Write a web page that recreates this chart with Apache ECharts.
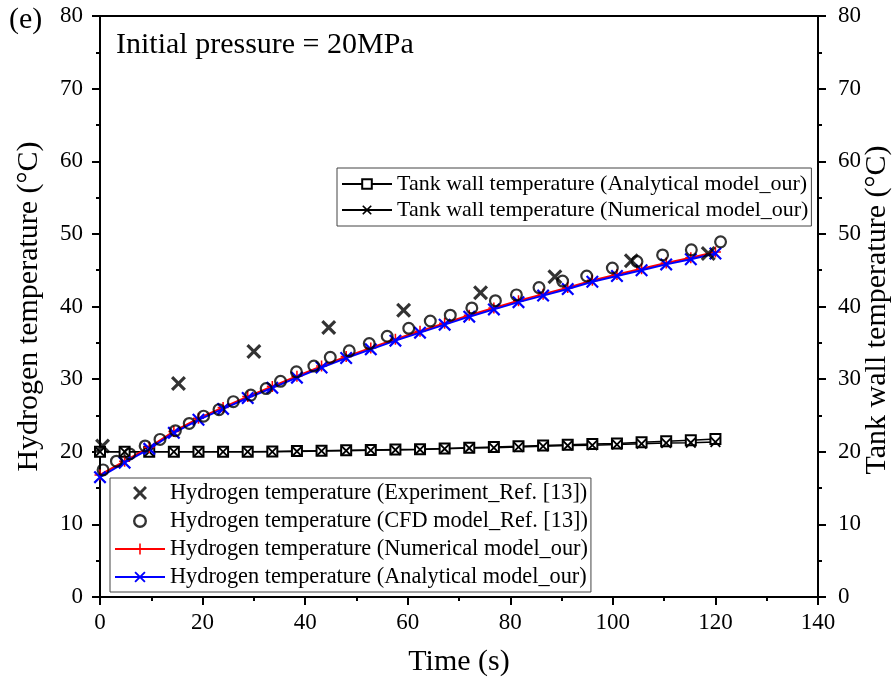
<!DOCTYPE html>
<html><head><meta charset="utf-8">
<script src="https://cdn.jsdelivr.net/npm/echarts@6/dist/echarts.min.js"></script>
<style>html,body{margin:0;padding:0;background:#fff}#c{width:896px;height:682px}</style>
</head><body><div id="c"></div>
<script>
// ---- data ----
const expTime = [0.5, 15.3, 30.0, 44.6, 59.2, 74.2, 88.7, 103.6, 118.6];
const expTemp = [20.8, 29.4, 33.8, 37.1, 39.5, 41.9, 44.1, 46.3, 47.3];
const cfdTime = [0.6, 3.2, 5.8, 8.8, 11.7, 14.7, 17.4, 20.2, 23.2, 26.0, 29.4, 32.4, 35.2, 38.3, 41.7, 44.9, 48.6, 52.5, 56.0, 60.2, 64.4, 68.3, 72.5, 77.1, 81.2, 85.6, 90.2, 94.9, 99.9, 104.7, 109.7, 115.3, 121.0];
const cfdTemp = [17.5, 18.7, 19.7, 20.8, 21.7, 22.9, 23.9, 24.9, 25.8, 26.9, 27.8, 28.7, 29.7, 31.0, 31.8, 33.0, 33.9, 34.9, 35.9, 37.0, 38.0, 38.8, 39.8, 40.8, 41.6, 42.6, 43.5, 44.2, 45.3, 46.2, 47.1, 47.8, 48.9];
const modelTime = [0, 4.8, 9.6, 14.4, 19.2, 24, 28.8, 33.6, 38.4, 43.2, 48, 52.8, 57.6, 62.4, 67.2, 72, 76.8, 81.6, 86.4, 91.2, 96, 100.8, 105.6, 110.4, 115.2, 120];
const h2Numerical = [16.8, 18.7, 20.6, 22.8, 24.6, 26.1, 27.6, 29.0, 30.4, 31.8, 33.1, 34.3, 35.5, 36.6, 37.7, 38.8, 39.8, 40.8, 41.7, 42.6, 43.6, 44.4, 45.2, 46.0, 46.7, 47.5];
const h2Analytical = [16.5, 18.5, 20.4, 22.6, 24.4, 25.9, 27.4, 28.8, 30.2, 31.6, 32.9, 34.1, 35.3, 36.4, 37.5, 38.6, 39.6, 40.6, 41.5, 42.4, 43.4, 44.2, 45.0, 45.8, 46.5, 47.3];
const wallAnalytical = [20.0, 20.0, 20.0, 20.0, 20.0, 20.0, 20.0, 20.05, 20.1, 20.15, 20.2, 20.25, 20.3, 20.35, 20.45, 20.55, 20.65, 20.75, 20.85, 20.95, 21.05, 21.15, 21.3, 21.45, 21.6, 21.75];
const wallNumerical = [20.0, 20.0, 20.0, 20.0, 20.0, 20.0, 20.0, 20.0, 20.05, 20.1, 20.15, 20.2, 20.25, 20.3, 20.4, 20.5, 20.55, 20.65, 20.75, 20.85, 20.9, 21.0, 21.1, 21.2, 21.25, 21.35];
const xTicks = [0, 20, 40, 60, 80, 100, 120, 140];
const yTicks = [0, 10, 20, 30, 40, 50, 60, 70, 80];

const names = {
  wallA: 'Tank wall temperature (Analytical model_our)',
  wallN: 'Tank wall temperature (Numerical model_our)',
  exp: 'Hydrogen temperature (Experiment_Ref. [13])',
  cfd: 'Hydrogen temperature (CFD model_Ref. [13])',
  num: 'Hydrogen temperature (Numerical model_our)',
  ana: 'Hydrogen temperature (Analytical model_our)'
};
const rightAxisTitle = 'Tank wall temperature (°C)';

const zip = (a, b) => a.map((v, i) => [v, b[i]]);
const XPATH = 'path://M0,1.5L1.5,0L5,3.5L8.5,0L10,1.5L6.5,5L10,8.5L8.5,10L5,6.5L1.5,10L0,8.5L3.5,5Z';
const XTHIN = 'path://M0,1.2L1.2,0L5,3.8L8.8,0L10,1.2L6.2,5L10,8.8L8.8,10L5,6.2L1.2,10L0,8.8L3.8,5Z';
const PLUS = 'path://M4.3,0H5.7V4.3H10V5.7H5.7V10H4.3V5.7H0V4.3H4.3Z';
const RING = 'path://M5,0A5,5 0 1,1 4.99,0ZM5,1.7A3.3,3.3 0 1,0 5.01,1.7Z';
const FONT = 'Liberation Serif';

const chart = echarts.init(document.getElementById('c'), null, {renderer: 'canvas'});
const yAxisCommon = {
  type: 'value', min: 0, max: 80, interval: 10,
  axisLine: {show: true, lineStyle: {color: '#000', width: 2}},
  axisTick: {show: true, length: 8, lineStyle: {color: '#000', width: 2}},
  minorTick: {show: true, splitNumber: 2, length: 4, lineStyle: {color: '#000', width: 2}},
  splitLine: {show: false},
  axisLabel: {color: '#000', fontFamily: FONT, fontSize: 23, margin: 17,
    formatter: v => yTicks.includes(v) ? String(v) : ''},
  nameLocation: 'middle', nameRotate: 90,
  nameTextStyle: {color: '#000', fontFamily: FONT, fontSize: 30}
};
chart.setOption({
  animation: false,
  backgroundColor: '#fff',
  grid: {left: 100, right: 78, top: 16, bottom: 85, show: true, borderColor: '#000', borderWidth: 2,
    containLabel: false, outerBoundsMode: 'none'},
  xAxis: {
    type: 'value', min: 0, max: 140, interval: 20,
    axisLine: {show: true, onZero: false, lineStyle: {color: '#000', width: 2}},
    axisTick: {show: true, length: 8, lineStyle: {color: '#000', width: 2}},
    minorTick: {show: true, splitNumber: 2, length: 4, lineStyle: {color: '#000', width: 2}},
    splitLine: {show: false},
    axisLabel: {color: '#000', fontFamily: FONT, fontSize: 23, margin: 14,
      formatter: v => xTicks.includes(v) ? String(v) : ''},
    name: 'Time (s)', nameLocation: 'middle', nameGap: 50,
    nameTextStyle: {color: '#000', fontFamily: FONT, fontSize: 30}
  },
  yAxis: [
    Object.assign({}, yAxisCommon, {position: 'left', name: 'Hydrogen temperature (°C)', nameGap: 56}),
    Object.assign({}, yAxisCommon, {position: 'right', name: '',
      axisLabel: Object.assign({}, yAxisCommon.axisLabel, {margin: 20})})
  ],
  legend: [
    {
      orient: 'vertical', left: 337, top: 168, data: [names.wallA, names.wallN],
      itemWidth: 50, itemHeight: 12, itemGap: 4, padding: [5, 3, 5, 4],
      borderColor: '#444', borderWidth: 1,
      textStyle: {color: '#000', fontFamily: FONT, fontSize: 22}
    },
    {
      orient: 'vertical', left: 110, top: 478, data: [names.exp, names.cfd, names.num, names.ana],
      itemWidth: 50, itemHeight: 14, itemGap: 6, padding: [4, 3, 4, 4],
      borderColor: '#444', borderWidth: 1,
      textStyle: {color: '#000', fontFamily: FONT, fontSize: 22.3}
    }
  ],
  graphic: [
    {type: 'text', left: 9, top: 5, style: {text: '(e)', font: '30px "Liberation Serif"', fill: '#000'}},
    {type: 'text', left: 116, top: 30, style: {text: 'Initial pressure = 20MPa', font: '30px "Liberation Serif"', fill: '#000'}},
    {type: 'text', x: 877, y: 310, rotation: Math.PI / 2,
      style: {text: rightAxisTitle, font: '30px "Liberation Serif"', fill: '#000', align: 'center', verticalAlign: 'middle'}}
  ],
  series: [
    {
      name: names.wallA, type: 'line', yAxisIndex: 1, data: zip(modelTime, wallAnalytical),
      symbol: 'emptyRect', symbolSize: 10, showAllSymbol: true,
      lineStyle: {color: '#000', width: 1.5}, itemStyle: {color: '#000', borderColor: '#000', borderWidth: 1.5}, z: 3
    },
    {
      name: names.wallN, type: 'line', yAxisIndex: 1, data: zip(modelTime, wallNumerical),
      symbol: XTHIN, symbolSize: 11, showAllSymbol: true,
      lineStyle: {color: '#000', width: 1.5}, itemStyle: {color: '#000'}, z: 3
    },
    {
      name: names.exp, type: 'scatter', data: zip(expTime, expTemp),
      symbol: XPATH, symbolSize: 15, itemStyle: {color: '#000'}, z: 5
    },
    {
      name: names.num, type: 'line', data: zip(modelTime, h2Numerical),
      symbol: PLUS, symbolSize: 11, showAllSymbol: true,
      lineStyle: {color: '#ff0000', width: 2}, itemStyle: {color: '#ff0000'}, z: 3
    },
    {
      name: names.ana, type: 'line', data: zip(modelTime, h2Analytical),
      symbol: XTHIN, symbolSize: 13, showAllSymbol: true,
      lineStyle: {color: '#0000ff', width: 2}, itemStyle: {color: '#0000ff'}, z: 4
    },
    {
      name: names.cfd, type: 'scatter', data: zip(cfdTime, cfdTemp),
      symbol: RING, symbolSize: 13, itemStyle: {color: '#000'}, z: 6
    }
  ]
});
</script></body></html>
